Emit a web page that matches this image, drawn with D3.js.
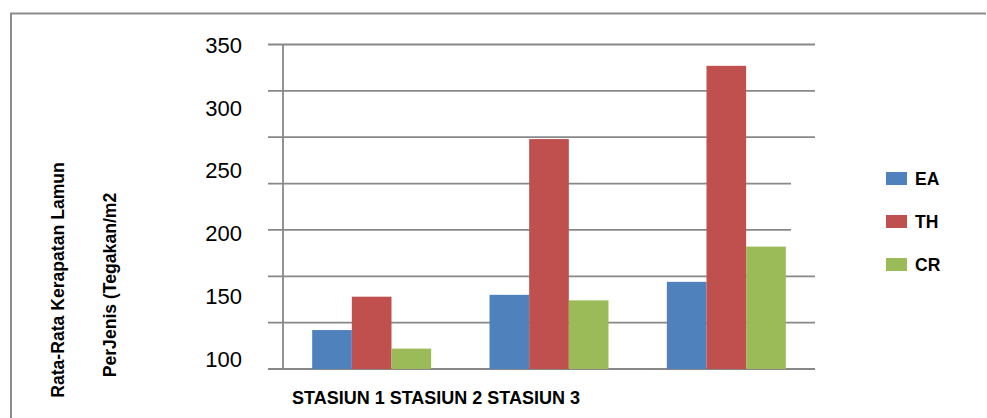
<!DOCTYPE html>
<html>
<head>
<meta charset="utf-8">
<script src="https://cdn.jsdelivr.net/npm/d3@7"></script>
<style>
body { margin: 0; background: #fff; }
text { font-family: "Liberation Sans", Arial, sans-serif; }
</style>
</head>
<body>
<div id="chart"></div>
<script>
var categories = ["STASIUN 1", "STASIUN 2", "STASIUN 3"];
var seriesNames = ["EA", "TH", "CR"];
var ea_values = [42, 80, 94];
var th_values = [78, 248, 327];
var cr_values = [22, 74, 132];
var tickLabels = ["350", "300", "250", "200", "150", "100"];
var gridValues = [0, 50, 100, 150, 200, 250, 300, 350];

var colors = ["#4F81BD", "#C0504D", "#9BBB59"];
var seriesValues = [ea_values, th_values, cr_values];

var width = 987,
height = 418,
plotLeft = 283,
plotRight = 815,
plotTop = 44.5,
plotBottom = 369;

var svg = d3.select("#chart")
.append("svg")
.attr("width", width)
.attr("height", height);

//outer frame
svg.append("path")
.attr("d", "M11,418 V13.5 H986")
.attr("fill", "none")
.attr("stroke", "#8c8c8c")
.attr("stroke-width", 2);

var yScale = d3.scaleLinear()
.domain([0, 350])
.range([plotBottom, plotTop]);

var x0 = d3.scaleBand()
.domain(categories)
.range([plotLeft, plotRight])
.paddingInner(0.329)
.paddingOuter(0.1645);

var x1 = d3.scaleBand()
.domain(seriesNames)
.range([0, x0.bandwidth()]);

//gridlines (two of them are cut short like in the source picture)
svg.selectAll("line.grid")
.data(gridValues)
.enter()
.append("line")
.attr("class", "grid")
.attr("x1", plotLeft - 15)
.attr("x2", function(d) {
	return (d == 150 || d == 200) ? plotRight - 24 : plotRight;
})
.attr("y1", function(d) { return yScale(d); })
.attr("y2", function(d) { return yScale(d); })
.attr("stroke", "#888")
.attr("stroke-width", 1.8);

//vertical axis
svg.append("line")
.attr("x1", plotLeft)
.attr("x2", plotLeft)
.attr("y1", yScale(350))
.attr("y2", yScale(0))
.attr("stroke", "#888")
.attr("stroke-width", 1.8);

//bars
var rows = [];
categories.forEach(function(c, i) {
	seriesNames.forEach(function(s, j) {
		rows.push({cat: c, series: s, value: seriesValues[j][i], color: colors[j]});
	});
});

svg.selectAll("rect.bar")
.data(rows)
.enter()
.append("rect")
.attr("class", "bar")
.attr("x", function(d) { return x0(d.cat) + x1(d.series); })
.attr("y", function(d) { return yScale(d.value); })
.attr("width", x1.bandwidth())
.attr("height", function(d) { return yScale(0) - yScale(d.value); })
.attr("fill", function(d) { return d.color; });

//tick labels (they sit on their own spacing, not on the gridlines)
var labelScale = d3.scalePoint()
.domain(tickLabels)
.range([45, 359]);

svg.selectAll("text.tick")
.data(tickLabels)
.enter()
.append("text")
.attr("class", "tick")
.text(function(d) { return d; })
.attr("x", 242)
.attr("y", function(d) { return labelScale(d); })
.attr("dy", "0.35em")
.attr("text-anchor", "end")
.attr("font-size", "22px")
.attr("fill", "#000");

//category labels run together under the first group
svg.append("text")
.text(categories.join(" "))
.attr("x", 292)
.attr("y", 404)
.attr("font-size", "18px")
.attr("font-weight", "bold")
.attr("fill", "#000");

//y axis title
svg.append("text")
.text("Rata-Rata Kerapatan Lamun")
.attr("transform", "translate(64,280) rotate(-90)")
.attr("text-anchor", "middle")
.attr("font-size", "17.6px")
.attr("font-weight", "bold");

svg.append("text")
.text("PerJenis (Tegakan/m2")
.attr("transform", "translate(116,285) rotate(-90)")
.attr("text-anchor", "middle")
.attr("font-size", "17.6px")
.attr("font-weight", "bold");

//legend
var legend = svg.selectAll("g.legend")
.data(seriesNames)
.enter()
.append("g")
.attr("class", "legend")
.attr("transform", function(d, i) { return "translate(886," + (172 + i * 43) + ")"; });

legend.append("rect")
.attr("width", 21)
.attr("height", 13)
.attr("fill", function(d, i) { return colors[i]; });

legend.append("text")
.text(function(d) { return d; })
.attr("x", 29)
.attr("y", 6.5)
.attr("dy", "0.35em")
.attr("font-size", "17.5px")
.attr("font-weight", "bold");
</script>
</body>
</html>
